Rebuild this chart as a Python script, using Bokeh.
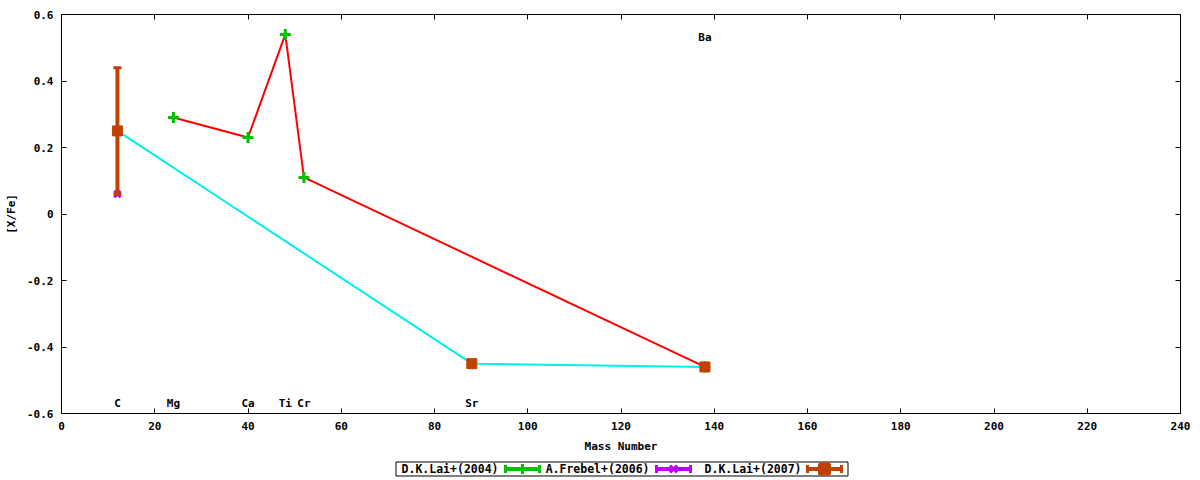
import numpy as np
from bokeh.plotting import figure
from bokeh.models import Range1d, LinearAxis, FixedTicker
from bokeh.layouts import column
from bokeh.embed import file_html
from bokeh.resources import INLINE
from bokeh.core.properties import value

# ---------------- data ----------------
lai2004_mass = [24, 40, 48, 52, 138]
lai2004_xfe = [0.29, 0.23, 0.54, 0.11, -0.46]

frebel2006_mass = [12]
frebel2006_xfe = [0.06]

lai2007_mass = [12, 88, 138]
lai2007_xfe = [0.25, -0.45, -0.46]
lai2007_err = [0.19, 0.0, 0.0]

elements = ["C", "Mg", "Ca", "Ti", "Cr", "Sr", "Ba"]
element_mass = [12, 24, 40, 48, 52, 88, 138]
element_label_y = [-0.57, -0.57, -0.57, -0.57, -0.57, -0.57, 0.53]

x_ticks = [0, 20, 40, 60, 80, 100, 120, 140, 160, 180, 200, 220, 240]
y_ticks = [-0.6, -0.4, -0.2, 0, 0.2, 0.4, 0.6]
y_tick_labels = ["-0.6", "-0.4", "-0.2", "0", "0.2", "0.4", "0.6"]

legend_labels = ["D.K.Lai+(2004)", "A.Frebel+(2006)", "D.K.Lai+(2007)"]

# ---------------- style ----------------
FONT = "DejaVu Sans Mono"
RED = "#ff0000"
GREEN = "#00c000"
MAGENTA = "#c000ff"
CYAN = "#00eeee"
BROWN = "#c04000"

LEFT, RIGHT, TOP, FW, FH = 61, 20, 14, 1119, 399

p = figure(frame_width=FW, frame_height=FH,
           x_range=Range1d(0, 240), y_range=Range1d(-0.6, 0.6),
           output_backend="svg", toolbar_location=None,
           min_border_left=LEFT, min_border_right=RIGHT,
           min_border_top=TOP, min_border_bottom=43)
p.grid.visible = False
p.outline_line_color = "black"
p.background_fill_color = "white"
p.border_fill_color = "white"

p.add_layout(LinearAxis(), "above")
p.add_layout(LinearAxis(), "right")

def style_axis(ax, ticks, show_labels):
    ax.ticker = FixedTicker(ticks=ticks)
    ax.major_tick_in = 5
    ax.major_tick_out = 0
    ax.minor_tick_in = 0
    ax.minor_tick_out = 0
    ax.axis_line_color = "black"
    ax.major_tick_line_color = "black"
    ax.major_label_text_font = FONT
    ax.major_label_text_font_style = "bold"
    if show_labels:
        ax.major_label_text_font_size = "11px"
        ax.major_label_text_color = "black"
        ax.major_label_standoff = 8
    else:
        ax.major_label_text_font_size = "1px"
        ax.major_label_text_color = None
        ax.major_label_standoff = 0
    ax.axis_label_text_font = FONT
    ax.axis_label_text_font_style = "bold"
    ax.axis_label_text_font_size = "11px"
    ax.axis_label_text_color = "black"

style_axis(p.below[0], x_ticks, True)
style_axis(p.above[0], x_ticks, False)
style_axis(p.left[0], y_ticks, True)
style_axis(p.right[0], y_ticks, False)

p.below[0].axis_label = "Mass Number"
p.below[0].axis_label_standoff = 7
p.left[0].axis_label = "[X/Fe]"
p.left[0].axis_label_standoff = 6
p.left[0].major_label_overrides = {t: l for t, l in zip(y_ticks, y_tick_labels)}
p.left[0].major_label_standoff = 8

# ---------------- series ----------------
# red connecting line for Lai 2004
p.line(lai2004_mass, lai2004_xfe, line_color=RED, line_width=2)
p.scatter(lai2004_mass, lai2004_xfe, marker="cross", size=11, line_width=3,
          line_color=GREEN)

# Frebel 2006
p.scatter(frebel2006_mass, frebel2006_xfe, marker="x", size=9, line_width=3,
          line_color=MAGENTA)

# cyan connecting line for Lai 2007
p.line(lai2007_mass, lai2007_xfe, line_color=CYAN, line_width=2)

# Lai 2007 error bars + points
m7 = np.array(lai2007_mass, dtype=float)
v7 = np.array(lai2007_xfe)
e7 = np.array(lai2007_err)
has = e7 > 0
p.segment(m7[has], (v7 - e7)[has], m7[has], (v7 + e7)[has],
          line_color=BROWN, line_width=4)
p.scatter(np.concatenate([m7[has], m7[has]]),
          np.concatenate([(v7 - e7)[has], (v7 + e7)[has]]),
          marker="dash", size=8, line_width=3, line_color=BROWN)
p.scatter(lai2007_mass, lai2007_xfe, marker="square", size=10,
          fill_color=BROWN, line_color=BROWN)

# element labels
p.text(element_mass, element_label_y, text=elements,
       text_align="center", text_baseline="middle",
       text_font=value(FONT), text_font_style="bold",
       text_font_size="11px", text_color="black")

# ---------------- legend (separate strip, pixel layout) ----------------
# the column aligns this strip's frame with the main frame (LEFT .. LEFT+FW),
# so its x range is expressed in page pixels
LH = 24
leg = figure(width=LEFT + FW + RIGHT, height=LH,
             x_range=Range1d(LEFT, LEFT + FW), y_range=Range1d(LH, 0),
             output_backend="svg", toolbar_location=None,
             x_axis_type=None, y_axis_type=None,
             min_border_left=LEFT, min_border_right=RIGHT,
             min_border_top=0, min_border_bottom=0)
leg.grid.visible = False
leg.outline_line_color = None
leg.background_fill_color = "white"
leg.border_fill_color = "white"

box_l, box_r, box_t, box_b = 395.5, 847.5, 5.5, 19.5
cy = (box_t + box_b) / 2
leg.quad(left=[box_l], right=[box_r], top=[box_t], bottom=[box_b],
         fill_color=None, line_color="black", line_width=1)

sample_centers = [522, 673, 824]
text_rights = [498, 649, 801]
sample_colors = [GREEN, MAGENTA, BROWN]
sample_markers = ["cross", "x", "square"]
half = 17
leg.segment([c - half for c in sample_centers], [cy] * 3,
            [c + half for c in sample_centers], [cy] * 3,
            line_color=sample_colors, line_width=4)
caps_x = [c - half for c in sample_centers] + [c + half for c in sample_centers]
leg.segment(caps_x, [cy - 4] * 6, caps_x, [cy + 4] * 6,
            line_color=sample_colors * 2, line_width=3)
for c, col, mk in zip(sample_centers, sample_colors, sample_markers):
    leg.scatter([c], [cy], marker=mk, size=10, line_width=3,
                line_color=col, fill_color=col)
leg.text(text_rights, [cy] * 3, text=legend_labels,
         text_align="right", text_baseline="middle",
         text_font=value(FONT), text_font_style="bold",
         text_font_size="11.5px", text_color="black")

layout = column(p, leg, spacing=0)
open("out.html", "w").write(file_html(layout, INLINE))
